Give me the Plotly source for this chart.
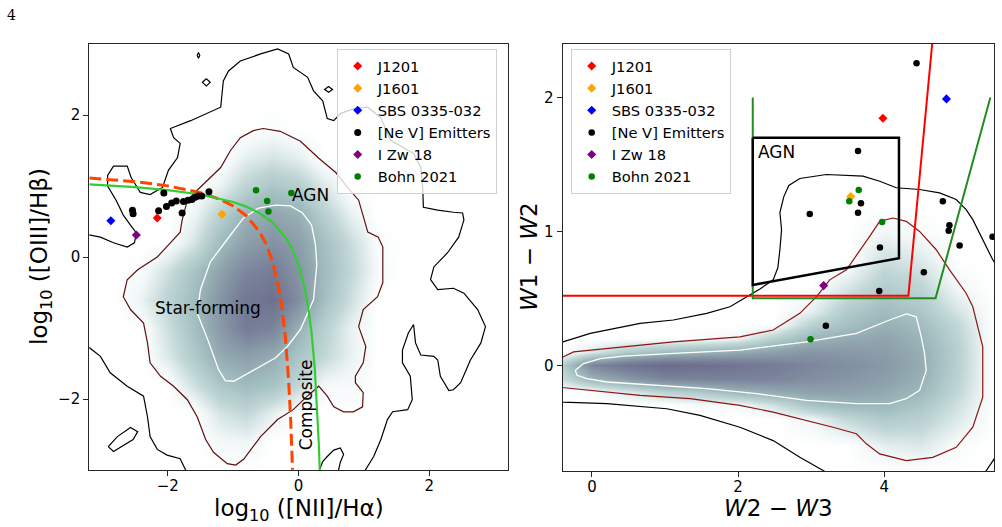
import plotly.graph_objects as go

# ================= LEFT PANEL : BPT diagram =================
BPT_GRID_X = [-3.2, -2.8, -2.4, -2.0, -1.6, -1.2, -0.8, -0.4, 0.0, 0.4, 0.8, 1.2, 1.6, 2.0, 2.4, 2.8, 3.2]
BPT_GRID_Y = [-3.0, -2.6, -2.2, -1.8, -1.4, -1.0, -0.6, -0.2, 0.2, 0.6, 1.0, 1.4, 1.8, 2.2, 2.6, 3.0]
BPT_DENSITY = [
    [0, 0, 0, 0, 0, 0, 0, 0, 0, 0, 0, 0, 0, 0, 0, 0, 0],
    [0, 0, 0, 0, 0, 0.06, 0.08, 0, 0, 0, 0, 0, 0, 0, 0, 0, 0],
    [0, 0, 0, 0, 0, 0.18, 0.25, 0.12, 0, 0, 0, 0, 0, 0, 0, 0, 0],
    [0, 0, 0, 0, 0.20, 0.38, 0.45, 0.40, 0.25, 0.05, 0.05, 0, 0, 0, 0, 0, 0],
    [0, 0, 0, 0.15, 0.35, 0.55, 0.62, 0.55, 0.38, 0.25, 0.10, 0, 0, 0, 0, 0, 0],
    [0, 0, 0, 0.20, 0.42, 0.65, 0.85, 0.80, 0.52, 0.30, 0.10, 0, 0, 0, 0, 0, 0],
    [0, 0, 0.10, 0.28, 0.45, 0.68, 0.90, 0.95, 0.72, 0.42, 0.20, 0, 0, 0, 0, 0, 0],
    [0, 0, 0.03, 0.20, 0.40, 0.60, 0.78, 0.85, 0.68, 0.45, 0.25, 0.05, 0, 0, 0, 0, 0],
    [0, 0, 0, 0, 0.18, 0.45, 0.62, 0.70, 0.62, 0.42, 0.22, 0.03, 0, 0, 0, 0, 0],
    [0, 0, 0, 0, 0.08, 0.30, 0.50, 0.58, 0.52, 0.30, 0.10, 0, 0, 0, 0, 0, 0],
    [0, 0, 0, 0, 0, 0.10, 0.28, 0.38, 0.32, 0.15, 0, 0, 0, 0, 0, 0, 0],
    [0, 0, 0, 0, 0, 0, 0.12, 0.18, 0.12, 0, 0, 0, 0, 0, 0, 0, 0],
    [0, 0, 0, 0, 0, 0, 0, 0.03, 0, 0, 0, 0, 0, 0, 0, 0, 0],
    [0, 0, 0, 0, 0, 0, 0, 0, 0, 0, 0, 0, 0, 0, 0, 0, 0],
    [0, 0, 0, 0, 0, 0, 0, 0, 0, 0, 0, 0, 0, 0, 0, 0, 0],
    [0, 0, 0, 0, 0, 0, 0, 0, 0, 0, 0, 0, 0, 0, 0, 0, 0],
]

# outer (black) contour, segments separated by None
BPT_OUTER_X = [-3.25, -3.03, -2.83, -2.62, -2.51, -2.48, -2.57, -2.68, -2.79, -2.92, -2.92, -2.83, -2.62, -2.56, -2.42,
               -2.27, -2.08, -1.99, -1.85, -1.81, -1.91, -1.96, -1.65, -1.19, -1.15, -1.07, -0.89, -0.58, -0.32, -0.15,
               -0.08, 0.14, 0.23, 0.37, 0.44, 0.54, 0.64, 0.84, 1.06, 1.26, 1.41, 1.76, 1.87, 1.90, 1.91, 2.13, 2.37,
               2.51, 2.53, 2.45, 2.28, 2.07, 2.02, 2.13, 2.37, 2.53, 2.74, 2.86, 2.79, 2.63, 2.48, 2.37, 2.30, 2.17,
               2.13, 2.07, 1.87, 1.79, 1.76, 1.68, 1.59, 1.59, 1.71, 1.74, 1.67, 1.44, 1.36, 1.26, 1.15, 0.99, None,
               0.30, 0.37, 0.44, 0.54, 0.64, 0.69, 0.64, 0.60, None,
               -3.25, -3.03, -2.88, -2.62, -2.37, -2.31, -2.27, -2.16, -2.01, -1.81, -1.70, None,
               -2.91, -2.77, -2.57, -2.46, -2.53, -2.83, -2.91, None,
               -1.53, -1.51, -1.53, -1.55, -1.53, None,
               -1.41, -1.35, -1.41, -1.47, -1.41, None,
               0.46, 0.52, 0.46, 0.40, 0.46]
BPT_OUTER_Y = [0.32, 0.28, 0.20, 0.14, 0.20, 0.34, 0.45, 0.59, 0.80, 1.00, 1.15, 1.28, 1.28, 1.12, 0.91,
               0.88, 0.98, 1.22, 1.40, 1.60, 1.68, 1.81, 1.92, 2.11, 2.48, 2.62, 2.76, 2.86, 2.93, 2.86,
               2.67, 2.53, 2.34, 2.20, 1.95, 1.92, 2.02, 2.09, 2.11, 1.96, 1.64, 1.46, 1.26, 0.98, 0.70, 0.66, 0.63,
               0.62, 0.52, 0.28, 0.06, -0.14, -0.32, -0.46, -0.44, -0.51, -0.74, -0.98, -1.21, -1.45, -1.77, -1.87, -1.88, -1.68,
               -1.45, -1.40, -1.38, -1.21, -0.95, -1.07, -1.31, -1.49, -1.68, -2.01, -2.15, -2.18, -2.29, -2.57, -2.81, -3.05, None,
               -3.05, -2.88, -2.81, -2.72, -2.69, -2.78, -2.89, -3.05, None,
               -1.24, -1.40, -1.63, -1.82, -1.96, -2.25, -2.53, -2.71, -2.79, -2.84, -3.05, None,
               -2.67, -2.53, -2.40, -2.46, -2.57, -2.74, -2.67, None,
               2.88, 2.84, 2.80, 2.84, 2.88, None,
               2.51, 2.46, 2.41, 2.46, 2.51, None,
               2.40, 2.36, 2.32, 2.36, 2.40]

BPT_MID_X = [-0.54, -0.28, 0.03, 0.31, 0.57, 0.75, 0.92, 0.99, 1.06, 1.22, 1.29, 1.29, 1.21, 0.99, 0.92, 1.03, 0.99,
             0.87, 0.87, 0.99, 0.98, 0.84, 0.69, 0.54, 0.44, 0.31, 0.11, -0.08, -0.32, -0.58, -0.73, -0.84, -0.96,
             -1.09, -1.30, -1.42, -1.55, -1.70, -1.91, -2.11, -2.27, -2.31, -2.37, -2.57, -2.68, -2.62, -2.46, -2.16,
             -1.96, -1.81, -1.78, -1.70, -1.55, -1.39, -1.19, -1.04, -0.89, -0.69, -0.54]
BPT_MID_Y = [1.81, 1.77, 1.63, 1.39, 1.19, 0.98, 0.80, 0.56, 0.35, 0.28, 0.14, -0.36, -0.56, -0.74, -0.98, -1.26, -1.49,
             -1.68, -1.77, -1.91, -2.11, -2.18, -2.18, -2.11, -1.96, -1.82, -1.98, -2.15, -2.29, -2.53, -2.71, -2.85, -2.93,
             -2.91, -2.75, -2.57, -2.25, -2.01, -1.82, -1.68, -1.49, -1.21, -0.93, -0.74, -0.56, -0.32, -0.18, 0.0,
             0.20, 0.35, 0.52, 0.80, 0.94, 1.08, 1.26, 1.50, 1.68, 1.78, 1.81]

BPT_INNER_X = [-1.04, -0.84, -0.61, -0.35, -0.12, 0.06, 0.20, 0.26, 0.28, 0.23, 0.03, -0.17, -0.35, -0.58, -0.78,
               -0.99, -1.12, -1.22, -1.39, -1.55, -1.50, -1.35, -1.04]
BPT_INNER_Y = [0.31, 0.55, 0.69, 0.73, 0.72, 0.62, 0.45, 0.17, -0.11, -0.60, -1.02, -1.26, -1.42, -1.54, -1.64,
               -1.75, -1.74, -1.59, -1.16, -0.79, -0.46, -0.07, 0.31]

# Kewley et al. (2001) maximum starburst line, sampled
KEWLEY_X = [-3.2, -3.0, -2.5, -2.0, -1.5, -1.0, -0.8, -0.6, -0.4, -0.2, -0.1, 0.0, 0.1, 0.15, 0.2, 0.25, 0.28, 0.30, 0.31, 0.32, 0.325]
KEWLEY_Y = [1.024, 1.014, 0.985, 0.943, 0.880, 0.775, 0.710, 0.620, 0.489, 0.280, 0.120, -0.108, -0.459, -0.716,
            -1.069, -1.583, -2.021, -2.398, -2.623, -2.877, -3.017]
# Kauffmann et al. (2003) line, sampled
KAUFF_X = [-3.2, -3.0, -2.5, -2.0, -1.5, -1.2, -1.0, -0.8, -0.6, -0.5, -0.4, -0.3, -0.25, -0.2, -0.15, -0.12, -0.1, -0.092]
KAUFF_Y = [1.112, 1.100, 1.061, 1.002, 0.906, 0.812, 0.719, 0.582, 0.362, 0.191, -0.056, -0.443, -0.733, -1.140,
           -1.750, -2.288, -2.767, -2.996]

# points, left panel
BPT_J1201 = ([-2.16], [0.55])
BPT_J1601 = ([-1.17], [0.60])
BPT_SBS = ([-2.87], [0.51])
BPT_NEV_X = [-2.54, -2.53, -2.14, -2.06, -2.02, -1.94, -1.87, -1.78, -1.76, -1.69, -1.63, -1.58, -1.53, -1.48, -1.37]
BPT_NEV_Y = [0.66, 0.61, 0.65, 0.90, 0.71, 0.76, 0.79, 0.62, 0.78, 0.80, 0.81, 0.84, 0.86, 0.86, 0.92]
BPT_IZW = ([-2.48], [0.31])
BPT_BOHN_X = [-0.65, -0.11, -0.48, -0.46]
BPT_BOHN_Y = [0.94, 0.90, 0.79, 0.64]

# ================= RIGHT PANEL : WISE colours =================
WISE_GRID_X = [-0.4, 0.0, 0.5, 1.0, 1.5, 2.0, 2.5, 3.0, 3.5, 4.0, 4.5, 5.0, 5.5]
WISE_GRID_Y = [-0.8, -0.6, -0.4, -0.3, -0.2, -0.1, 0.0, 0.1, 0.2, 0.3, 0.4, 0.6, 0.8, 1.0, 1.2, 1.6, 2.4]
WISE_DENSITY = [
    [0, 0, 0, 0, 0, 0, 0, 0, 0, 0, 0, 0, 0],
    [0, 0, 0, 0, 0, 0, 0, 0, 0, 0.12, 0.15, 0.03, 0],
    [0, 0, 0, 0, 0, 0, 0, 0.08, 0.25, 0.35, 0.30, 0.15, 0],
    [0, 0, 0, 0, 0.05, 0.05, 0.20, 0.40, 0.47, 0.48, 0.38, 0.20, 0],
    [0, 0.02, 0.15, 0.28, 0.35, 0.48, 0.55, 0.60, 0.60, 0.56, 0.47, 0.25, 0],
    [0.22, 0.48, 0.65, 0.78, 0.80, 0.80, 0.78, 0.72, 0.68, 0.62, 0.52, 0.28, 0],
    [0.32, 0.78, 0.93, 1.00, 0.97, 0.92, 0.85, 0.78, 0.72, 0.66, 0.54, 0.30, 0],
    [0, 0.15, 0.35, 0.45, 0.50, 0.55, 0.62, 0.68, 0.66, 0.63, 0.53, 0.30, 0],
    [0, 0, 0, 0, 0.03, 0.08, 0.30, 0.48, 0.55, 0.58, 0.50, 0.28, 0],
    [0, 0, 0, 0, 0, 0, 0.02, 0.30, 0.42, 0.52, 0.44, 0.25, 0],
    [0, 0, 0, 0, 0, 0, 0, 0.12, 0.35, 0.45, 0.38, 0.18, 0],
    [0, 0, 0, 0, 0, 0, 0, 0, 0.15, 0.32, 0.26, 0.05, 0],
    [0, 0, 0, 0, 0, 0, 0, 0, 0, 0.20, 0.14, 0, 0],
    [0, 0, 0, 0, 0, 0, 0, 0, 0, 0.07, 0.03, 0, 0],
    [0, 0, 0, 0, 0, 0, 0, 0, 0, 0, 0, 0, 0],
    [0, 0, 0, 0, 0, 0, 0, 0, 0, 0, 0, 0, 0],
    [0, 0, 0, 0, 0, 0, 0, 0, 0, 0, 0, 0, 0],
]

WISE_OUTER_X = [-0.45, -0.396, -0.023, 0.659, 1.114, 1.570, 1.888, 2.116, 2.298, 2.479, 2.543, 2.571, 2.594, 2.571,
                2.625, 2.693, 2.844, 3.208, 3.708, 3.936, 4.164, 4.482, 4.755, 4.983, 5.119, 5.210, 5.301, 5.393,
                5.483, 5.575, None,
                -0.45, -0.396, 0.205, 1.024, 1.478, 2.025, 2.479, 2.844, 3.185, 3.25, None,
                5.33, 5.393, 5.49, 5.55]
WISE_OUTER_Y = [0.17, 0.175, 0.238, 0.313, 0.338, 0.388, 0.437, 0.512, 0.570, 0.638, 0.728, 0.863, 1.013, 1.140,
                1.260, 1.343, 1.395, 1.425, 1.413, 1.375, 1.326, 1.313, 1.288, 1.238, 1.163, 1.088, 0.988, 0.887,
                0.788, 0.713, None,
                -0.272, -0.275, -0.287, -0.325, -0.375, -0.463, -0.563, -0.688, -0.793, -0.84, None,
                -0.84, -0.788, -0.713, -0.66]

WISE_MID_X = [-0.45, -0.396, -0.251, 0.205, 1.114, 2.025, 2.479, 2.844, 3.072, 3.253, 3.481, 3.799, 3.936, 4.117,
              4.300, 4.482, 4.710, 4.892, 5.119, 5.210, 5.346, 5.346, 5.210, 4.983, 4.663, 4.300, 3.936, 3.754,
              3.618, 3.298, 2.935, 2.479, 2.025, 1.342, 0.659, -0.023, -0.396, -0.45]
WISE_MID_Y = [0.058, 0.062, 0.100, 0.125, 0.175, 0.212, 0.263, 0.388, 0.512, 0.638, 0.713, 0.963, 1.075, 1.100,
              1.075, 1.000, 0.863, 0.713, 0.538, 0.437, 0.137, -0.238, -0.463, -0.613, -0.688, -0.713, -0.662, -0.587,
              -0.512, -0.463, -0.413, -0.350, -0.300, -0.250, -0.225, -0.188, -0.167, -0.164]

WISE_INNER_X = [-0.228, -0.115, 0.113, 0.431, 1.114, 2.025, 2.935, 3.618, 4.072, 4.300, 4.437, 4.505, 4.550, 4.573,
                4.482, 4.300, 4.072, 3.618, 2.935, 2.253, 1.570, 0.887, 0.205, -0.068, -0.205, -0.228]
WISE_INNER_Y = [-0.038, 0.013, 0.050, 0.068, 0.088, 0.113, 0.175, 0.238, 0.338, 0.383, 0.362, 0.212, 0.088, -0.038,
                -0.188, -0.250, -0.287, -0.287, -0.263, -0.212, -0.175, -0.150, -0.125, -0.100, -0.075, -0.038]

# selection criteria
SATYAPAL_X = [-0.5, 4.329, 4.675]          # red: W1-W2 > 0.52 and > 5.78(W2-W3)-24.50
SATYAPAL_Y = [0.52, 0.52, 2.52]
BLECHA_X = [2.2, 2.2, 4.7, 5.45]           # green
BLECHA_Y = [2.0, 0.5, 0.5, 2.0]
JARRETT_X = [2.2, 4.2, 4.2, 2.2, 2.2]      # black AGN box
JARRETT_Y = [1.7, 1.7, 0.80, 0.60, 1.7]

# points, right panel
WISE_J1201 = ([3.98], [1.845])
WISE_J1601 = ([3.54], [1.26])
WISE_SBS = ([4.85], [1.99])
WISE_NEV_X = [4.44, 3.64, 2.98, 3.68, 3.64, 4.80, 4.89, 4.88, 5.03, 5.48, 3.94, 4.54, 3.93, 3.20]
WISE_NEV_Y = [2.256, 1.60, 1.13, 1.21, 1.14, 1.225, 1.045, 1.005, 0.895, 0.96, 0.88, 0.695, 0.555, 0.295]
WISE_IZW = ([3.17], [0.595])
WISE_BOHN_X = [3.65, 3.52, 3.97, 2.99]
WISE_BOHN_Y = [1.31, 1.225, 1.07, 0.195]

LEGEND_NAMES = ["J1201", "J1601", "SBS 0335-032", "[Ne V] Emitters", "I Zw 18", "Bohn 2021"]

# ================= figure =================
FONT = "DejaVu Sans"
DENSITY_CS = [[0.0, "#ffffff"], [0.08, "#f0f6f6"], [0.25, "#c2d7d7"], [0.45, "#a0bcbe"],
              [0.6, "#8ea2ac"], [0.8, "#7a839b"], [1.0, "#6b6c8a"]]

fig = go.Figure()


def add_panel(xa, ya, gx, gy, dens, outer, mid, inner, mid_col):
    fig.add_trace(go.Heatmap(x=gx, y=gy, z=dens, zmin=0, zmax=1, zsmooth="best", colorscale=DENSITY_CS,
                             showscale=False, hoverinfo="skip", xaxis=xa, yaxis=ya))
    fig.add_trace(go.Scatter(x=outer[0], y=outer[1], mode="lines", line=dict(color="black", width=1.2),
                             showlegend=False, hoverinfo="skip", xaxis=xa, yaxis=ya))
    fig.add_trace(go.Scatter(x=mid[0], y=mid[1], mode="lines", line=dict(color=mid_col, width=1.2),
                             showlegend=False, hoverinfo="skip", xaxis=xa, yaxis=ya))
    fig.add_trace(go.Scatter(x=inner[0], y=inner[1], mode="lines", line=dict(color="white", width=1.3),
                             showlegend=False, hoverinfo="skip", xaxis=xa, yaxis=ya))


def add_points(xa, ya, leg, j1201, j1601, sbs, nev, izw, bohn, dot):
    specs = [(j1201, "red", "diamond", 7), (j1601, "orange", "diamond", 7), (sbs, "blue", "diamond", 7),
             (nev, "black", "circle", dot), (izw, "purple", "diamond", 7), (bohn, "green", "circle", 6.5)]
    for name, (pts, col, sym, sz) in zip(LEGEND_NAMES, specs):
        fig.add_trace(go.Scatter(x=pts[0], y=pts[1], mode="markers", name=name,
                                 marker=dict(color=col, symbol=sym, size=sz, line=dict(width=0)),
                                 legend=leg, xaxis=xa, yaxis=ya))


# left panel
add_panel("x", "y", BPT_GRID_X, BPT_GRID_Y, BPT_DENSITY, (BPT_OUTER_X, BPT_OUTER_Y),
          (BPT_MID_X, BPT_MID_Y), (BPT_INNER_X, BPT_INNER_Y), "#5e1010")
fig.add_trace(go.Scatter(x=KAUFF_X, y=KAUFF_Y, mode="lines", line=dict(color="#ff4500", width=3, dash="12px,5px"),
                         showlegend=False, hoverinfo="skip", xaxis="x", yaxis="y"))
fig.add_trace(go.Scatter(x=KEWLEY_X, y=KEWLEY_Y, mode="lines", line=dict(color="#32cd32", width=2.2),
                         showlegend=False, hoverinfo="skip", xaxis="x", yaxis="y"))
add_points("x", "y", "legend", BPT_J1201, BPT_J1601, BPT_SBS, (BPT_NEV_X, BPT_NEV_Y), BPT_IZW,
           (BPT_BOHN_X, BPT_BOHN_Y), 7)

# right panel
add_panel("x2", "y2", WISE_GRID_X, WISE_GRID_Y, WISE_DENSITY, (WISE_OUTER_X, WISE_OUTER_Y),
          (WISE_MID_X, WISE_MID_Y), (WISE_INNER_X, WISE_INNER_Y), "#8f1414")
fig.add_trace(go.Scatter(x=SATYAPAL_X, y=SATYAPAL_Y, mode="lines", line=dict(color="red", width=2),
                         showlegend=False, hoverinfo="skip", xaxis="x2", yaxis="y2"))
fig.add_trace(go.Scatter(x=BLECHA_X, y=BLECHA_Y, mode="lines", line=dict(color="#228b22", width=2),
                         showlegend=False, hoverinfo="skip", xaxis="x2", yaxis="y2"))
fig.add_trace(go.Scatter(x=JARRETT_X, y=JARRETT_Y, mode="lines", line=dict(color="black", width=2.5),
                         showlegend=False, hoverinfo="skip", xaxis="x2", yaxis="y2"))
add_points("x2", "y2", "legend2", WISE_J1201, WISE_J1601, WISE_SBS, (WISE_NEV_X, WISE_NEV_Y), WISE_IZW,
           (WISE_BOHN_X, WISE_BOHN_Y), 6.5)

axis_common = dict(showgrid=False, zeroline=False, showline=True, mirror=True, linecolor="#262626", linewidth=1.2,
                   ticks="outside", ticklen=5, tickwidth=1.2, tickcolor="#262626",
                   tickfont=dict(family=FONT, size=15, color="black"))

legend_common = dict(xanchor="left", yanchor="top", bgcolor="rgba(255,255,255,0.8)", bordercolor="#d0d0d0",
                     borderwidth=1, font=dict(family=FONT, size=14.7, color="black"), tracegroupgap=0)

W, H = 1002, 527


def px(x):
    return x / W


def py(y):
    return (H - y) / H


fig.update_layout(
    width=W, height=H, margin=dict(l=0, r=0, t=0, b=0),
    paper_bgcolor="white", plot_bgcolor="white",
    font=dict(family=FONT, color="black"),
    xaxis=dict(domain=[px(89.3), px(507.7)], range=[-3.2, 3.2], tickvals=[-2, 0, 2],
               ticktext=["\u22122", "0", "2"], anchor="y", ticklabelstandoff=-3, **axis_common),
    yaxis=dict(domain=[py(470), py(44)], range=[-3, 3], tickvals=[-2, 0, 2],
               ticktext=["\u22122", "0", "2"], anchor="x", **axis_common),
    xaxis2=dict(domain=[px(562.7), px(994)], range=[-0.4, 5.5], tickvals=[0, 2, 4],
                ticktext=["0", "2", "4"], anchor="y2", ticklabelstandoff=-3, **axis_common),
    yaxis2=dict(domain=[py(471), py(44)], range=[-0.79, 2.4], tickvals=[0, 1, 2],
                ticktext=["0", "1", "2"], anchor="x2", **axis_common),
    legend=dict(x=px(336.7), y=py(49), **legend_common),
    legend2=dict(x=px(570.7), y=py(49), **legend_common),
    showlegend=True,
)

C = dict(xanchor="center", yanchor="middle", showarrow=False)
ann = [
    dict(x=0.19, y=0.88, xref="x", yref="y", text="AGN", font=dict(size=17), **C),
    dict(x=-1.38, y=-0.72, xref="x", yref="y", text="Star-forming", font=dict(size=17), **C),
    dict(x=0.11, y=-2.08, xref="x", yref="y", text="Composite", textangle=-90, font=dict(size=17), **C),
    dict(x=2.25, y=1.595, xref="x2", yref="y2", text="AGN", xanchor="left", yanchor="middle", showarrow=False,
         font=dict(size=17)),
    dict(x=px(298.5), y=py(509.5), xref="paper", yref="paper", text="log<sub>10</sub> ([NII]/H\u03b1)",
         font=dict(size=23), **C),
    dict(x=px(41), y=py(257), xref="paper", yref="paper", text="log<sub>10</sub> ([OIII]/H\u03b2)",
         textangle=-90, font=dict(size=23), **C),
    dict(x=px(778.4), y=py(508), xref="paper", yref="paper", text="<i>W</i>2 \u2212 <i>W</i>3",
         font=dict(size=23), **C),
    dict(x=px(529), y=py(257), xref="paper", yref="paper", text="<i>W</i>1 \u2212 <i>W</i>2",
         textangle=-90, font=dict(size=23), **C),
    dict(x=px(11), y=py(15), xref="paper", yref="paper", text="4",
         font=dict(family="DejaVu Serif", size=14), **C),
]
fig.update_layout(annotations=ann)

fig.write_html("out.html")
